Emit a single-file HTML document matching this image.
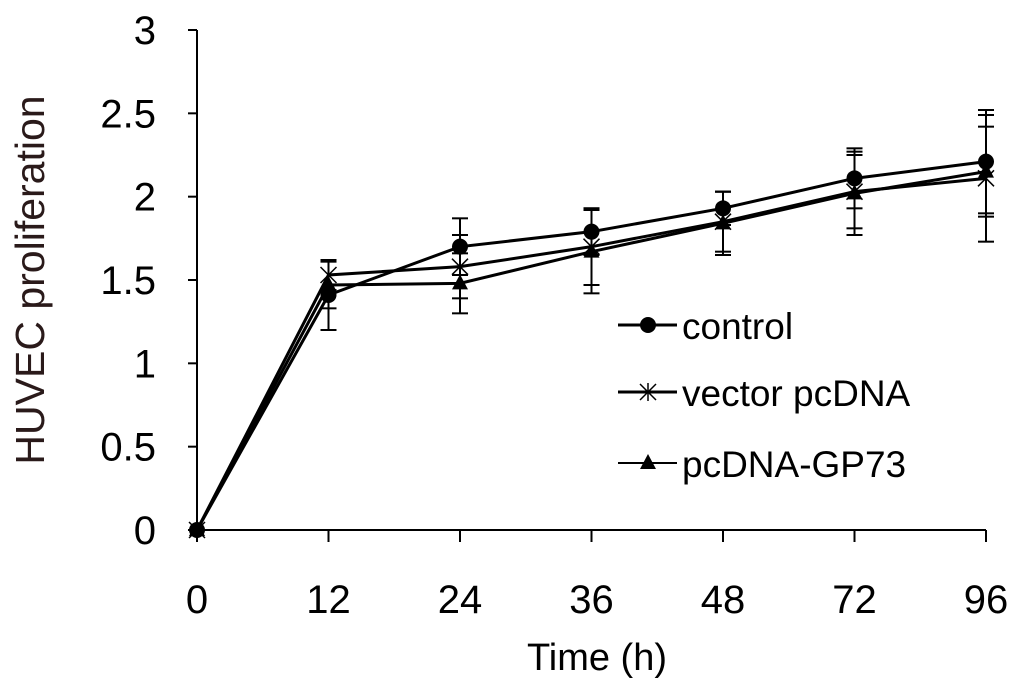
<!DOCTYPE html>
<html><head><meta charset="utf-8"><style>
html,body{margin:0;padding:0;background:#fff;}
svg{display:block;font-family:"Liberation Sans",Arial,sans-serif;}
</style></head><body>
<svg id="chart" width="1024" height="694" viewBox="0 0 1024 694">
<g id="axes"></g><g id="series"></g><g id="legend"></g>
</svg>
<script>
const categories = ["0","12","24","36","48","72","96"];
const yTicks = [0,0.5,1,1.5,2,2.5,3];
const yTickLabels = ["0","0.5","1","1.5","2","2.5","3"];
const controlVals = [0,1.41,1.70,1.79,1.93,2.11,2.21];
const controlErr = [0,0.21,0.17,0.14,0.10,0.18,0.31];
const vectorVals = [0,1.53,1.58,1.70,1.85,2.03,2.11];
const vectorErr = [0,0.09,0.19,0.23,0.18,0.22,0.38];
const gp73Vals = [0,1.47,1.48,1.67,1.84,2.02,2.15];
const gp73Err = [0,0.14,0.18,0.25,0.19,0.25,0.27];
const seriesNames = ["control","vector pcDNA","pcDNA-GP73"];

const NS="http://www.w3.org/2000/svg";
const x0=197,x1=986,yTop=30,yBot=530,yMax=3;
function xs(i){return x0+(x1-x0)*i/(categories.length-1);}
function ys(v){return yBot-(yBot-yTop)*v/yMax;}
function mk(tag,attrs,parent){const e=document.createElementNS(NS,tag);for(const k in attrs)e.setAttribute(k,attrs[k]);parent.appendChild(e);return e;}
const axes=document.getElementById('axes'),ser=document.getElementById('series'),leg=document.getElementById('legend');

let a=mk('line',{x1:x0,y1:yTop,x2:x0,y2:yBot,stroke:'#000','stroke-width':2},axes);


a=mk('line',{x1:x0,y1:yBot,x2:x1,y2:yBot,stroke:'#000','stroke-width':2},axes);


yTicks.forEach((v,i)=>{
  mk('line',{x1:x0-9,y1:ys(v),x2:x0,y2:ys(v),stroke:'#000','stroke-width':2},axes);
  const t=mk('text',{x:x0-41,y:ys(v)+14,'text-anchor':'end','font-size':40,fill:'#000'},axes);
  t.textContent=yTickLabels[i];
  
  
});
categories.forEach((c,i)=>{
  mk('line',{x1:xs(i),y1:yBot,x2:xs(i),y2:yBot+12,stroke:'#000','stroke-width':2},axes);
  const t=mk('text',{x:xs(i),y:613,'text-anchor':'middle','font-size':40,fill:'#000'},axes);
  t.textContent=c;
  
  
});
let t=mk('text',{x:597,y:670,'text-anchor':'middle','font-size':38,fill:'#000'},axes);
t.textContent="Time (h)";


t=mk('text',{x:0,y:0,'text-anchor':'middle','font-size':41,fill:'#2a1a1a',transform:'translate(44,280) rotate(-90)'},axes);
t.textContent="HUVEC proliferation";



function marker(kind,x,y,parent){
  if(kind===0) return mk('circle',{cx:x,cy:y,r:8,fill:'#000'},parent);
  if(kind===2) return mk('path',{d:`M${x},${y-9} L${x+8},${y+6} L${x-8},${y+6} Z`,fill:'#000'},parent);
  const g=mk('g',{stroke:'#000','stroke-width':1.5},parent);
  mk('line',{x1:x-8,y1:y-8,x2:x+8,y2:y+8},g);mk('line',{x1:x-8,y1:y+8,x2:x+8,y2:y-8},g);
  mk('line',{x1:x,y1:y-9,x2:x,y2:y+9},g);
  return g;
}
const allVals=[controlVals,vectorVals,gp73Vals],allErr=[controlErr,vectorErr,gp73Err];
const names=['control-series','vector-series','gp73-series'];
allVals.forEach((vals,s)=>{
  const g=mk('g',{},ser);
  
  
  vals.forEach((v,i)=>{
    const e=allErr[s][i]; if(e<=0) return;
    const eb=mk('g',{stroke:'#000','stroke-width':2},g);
    
    
    mk('line',{x1:xs(i),y1:ys(v+e),x2:xs(i),y2:ys(v-e)},eb);
    mk('line',{x1:xs(i)-8,y1:ys(v+e),x2:xs(i)+8,y2:ys(v+e)},eb);
    mk('line',{x1:xs(i)-8,y1:ys(v-e),x2:xs(i)+8,y2:ys(v-e)},eb);
  });
  const p=mk('polyline',{points:vals.map((v,i)=>xs(i)+','+ys(v)).join(' '),fill:'none',stroke:'#000','stroke-width':3},g);
  
  
  vals.forEach((v,i)=>{
    const m=marker(s,xs(i),ys(v),g);
    
    
  });
});
const legY=[325,392,463];
seriesNames.forEach((n,s)=>{
  const y=legY[s];
  const g=mk('g',{},leg);
  
  
  mk('line',{x1:618,y1:y,x2:677,y2:y,stroke:'#000','stroke-width':s===2?2:3},g);
  marker(s,648,y,g);
  const tt=mk('text',{x:682,y:y+14,'font-size':37,fill:'#000'},g);
  tt.textContent=n;
});
</script>
</body></html>
